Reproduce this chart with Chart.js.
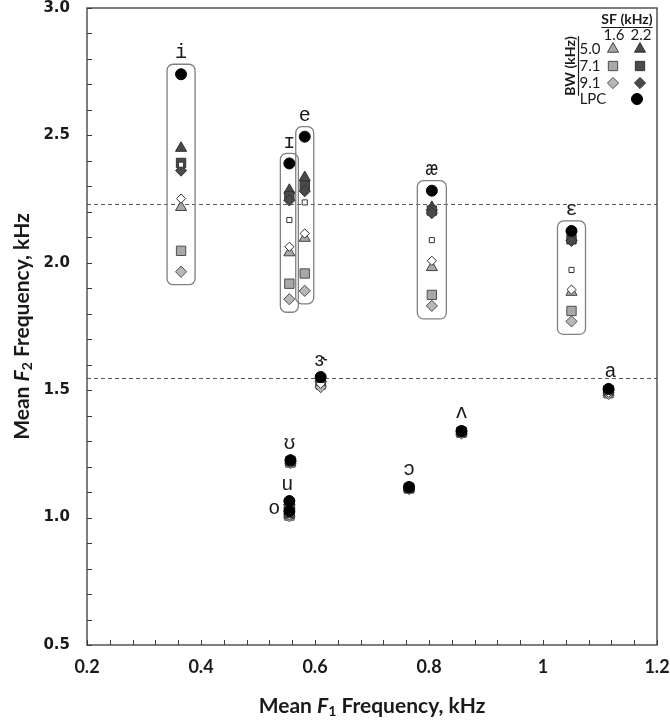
<!DOCTYPE html>
<html><head><meta charset="utf-8">
<script src="https://cdn.jsdelivr.net/npm/chart.js@4.4.0/dist/chart.umd.min.js"></script>
<style>html,body{margin:0;padding:0;background:#fff;}#wrap{width:670px;height:723px;}</style>
</head><body><div id="wrap"><canvas id="c" width="670" height="723"></canvas></div>
<script>
// ---------- DATA ----------
const vowels = ['i','ɪ','e','æ','ɛ','ɝ','a','ʌ','ɔ','ʊ','u','o'];
const meanF1 = [0.365,0.555,0.582,0.805,1.050,0.610,1.115,0.857,0.765,0.557,0.555,0.555];
const lpcF2      = [2.740,2.390,2.495,2.283,2.125,1.552,1.505,1.340,1.120,1.225,1.065,1.025];
const bw50sf22F2 = [2.450,2.285,2.335,2.218,2.100,1.545,1.503,1.338,1.118,1.224,1.060,1.022];
const bw50sf16F2 = [2.218,2.040,2.097,1.982,1.885,1.528,1.490,1.334,1.115,1.218,1.048,1.010];
const bw71sf22F2 = [2.392,2.262,2.303,2.205,2.092,1.540,1.500,1.337,1.117,1.222,1.055,1.017];
const bw71sf16F2 = [2.047,1.918,1.958,1.874,1.811,1.522,1.488,1.333,1.114,1.216,1.045,1.008];
const bw91sf22F2 = [2.362,2.245,2.281,2.195,2.086,1.535,1.498,1.336,1.116,1.220,1.052,1.014];
const bw91sf16F2 = [1.965,1.857,1.890,1.831,1.770,1.512,1.485,1.330,1.112,1.214,1.040,1.005];
const extraSqF2  = [2.385,2.168,2.237,2.089,1.972,1.540,1.495,1.335,1.115,1.220,1.050,1.010];
const extraDmF2  = [2.252,2.063,2.115,2.008,1.895,1.525,1.490,1.334,1.114,1.216,1.046,1.009];
const refLinesF2 = [2.232, 1.548];
const boxedVowels = ['i','ɪ','e','æ','ɛ'];
const xTickLabelsAt = [0.2,0.4,0.6,0.8,1.0,1.2];
const yTickLabelsAt = [0.5,1.0,1.5,2.0,2.5,3.0];
const sfLabels = ['1.6','2.2'];
const bwLabels = ['5.0','7.1','9.1'];

// ---------- STYLES ----------
const DARK='#4a4a4a', LIGHT='#a8a8a8', LIGHTD='#b8b8b8';
const series = [
  {name:'LPC', data:lpcF2, style:'circle', r:5.5, bg:'#000', bd:'#000', bw:1},
  {name:'extraSq', data:extraSqF2, style:'rect', r:3.6, bg:'#fff', bd:'#333', bw:1},
  {name:'extraDm', data:extraDmF2, style:'rectRot', r:4.6, bg:'#fff', bd:'#333', bw:1},
  {name:'BW9.1 SF2.2', data:bw91sf22F2, style:'rectRot', r:5.6, bg:DARK, bd:'#333', bw:1},
  {name:'BW7.1 SF2.2', data:bw71sf22F2, style:'rect', r:6.6, bg:DARK, bd:'#333', bw:1},
  {name:'BW5.0 SF2.2', data:bw50sf22F2, style:'triangle', r:6.4, bg:DARK, bd:'#333', bw:1},
  {name:'BW9.1 SF1.6', data:bw91sf16F2, style:'rectRot', r:5.6, bg:LIGHTD, bd:'#4d4d4d', bw:1},
  {name:'BW7.1 SF1.6', data:bw71sf16F2, style:'rect', r:6.6, bg:LIGHT, bd:'#4d4d4d', bw:1},
  {name:'BW5.0 SF1.6', data:bw50sf16F2, style:'triangle', r:6.4, bg:LIGHT, bd:'#404040', bw:1}
];
const boxHalfWidth = {'i':14,'ɪ':9,'e':9,'æ':14.5,'ɛ':14};
const boxPad = {top:10, bottom:13, radius:6};
const labelOffset = {'i':[0,-12],'ɪ':[0,-11],'e':[0,-11],'æ':[0,-11],'ɛ':[0,-11],
  'ɝ':[0,-16],'a':[2,-17],'ʌ':[0,-18],'ɔ':[0,-17],'ʊ':[-1,-17],'u':[-2,-16],'o':[-15,-3]};
const AREA = {left:87, right:657, top:8, bottom:645};
const LEG = {bwX:578, rowLblX:590, col:[613,640], colLbl:[614,641], lpcX:637, sfX:627, sfY:19, colLblY:35, rowY:[49,66,83], lpcY:99};

// ---------- HELPERS ----------
function rr(ctx,x,y,w,h,r){ctx.beginPath();ctx.moveTo(x+r,y);ctx.lineTo(x+w-r,y);ctx.arcTo(x+w,y,x+w,y+r,r);
  ctx.lineTo(x+w,y+h-r);ctx.arcTo(x+w,y+h,x+w-r,y+h,r);ctx.lineTo(x+r,y+h);ctx.arcTo(x,y+h,x,y+h-r,r);
  ctx.lineTo(x,y+r);ctx.arcTo(x,y,x+r,y,r);ctx.closePath();}
function rich(ctx, segs, cx, cy, rot, size){
  const fam="Lato, 'Open Sans', sans-serif";
  const parts = segs.map(s=>{const fs=s.sub?Math.round(size*0.68):size;
    const font=(s.it?'italic ':'')+'bold '+fs+'px '+fam; ctx.font=font; return {t:s.t,font,w:ctx.measureText(s.t).width,sub:s.sub,fs};});
  const total = parts.reduce((a,p)=>a+p.w,0);
  ctx.save(); ctx.translate(cx,cy); ctx.rotate(rot); ctx.fillStyle='#1a1a1a'; ctx.textBaseline='middle'; ctx.textAlign='left';
  let x=-total/2; parts.forEach(p=>{ctx.font=p.font; ctx.fillText(p.t,x,p.sub?size*0.28:0); x+=p.w;}); ctx.restore();
}
const near=(v,arr)=>arr.some(a=>Math.abs(a-v)<1e-6);
function zeroPad(s){s.paddingLeft=0;s.paddingRight=0;s.paddingTop=0;s.paddingBottom=0;}

const overlay = {
  id:'overlay',
  beforeDatasetsDraw(chart){
    const {ctx, chartArea:a, scales:{x,y}} = chart;
    ctx.save();
    ctx.strokeStyle='#5a5a5a'; ctx.lineWidth=1; ctx.setLineDash([4,3]);
    refLinesF2.forEach(v=>{const py=Math.round(y.getPixelForValue(v))+0.5; ctx.beginPath(); ctx.moveTo(a.left,py); ctx.lineTo(a.right,py); ctx.stroke();});
    ctx.setLineDash([]);
    ctx.strokeStyle='#808080'; ctx.lineWidth=1.3;
    boxedVowels.forEach(v=>{
      const i=vowels.indexOf(v); const vals=series.map(s=>s.data[i]);
      const top=y.getPixelForValue(Math.max(...vals))-boxPad.top;
      const bot=y.getPixelForValue(Math.min(...vals))+boxPad.bottom;
      const cx=x.getPixelForValue(meanF1[i]); const hw=boxHalfWidth[v];
      rr(ctx,cx-hw,top,2*hw,bot-top,boxPad.radius); ctx.stroke();
    });
    ctx.restore();
  },
  afterDraw(chart){
    const {ctx, chartArea:a, scales:{x,y}} = chart;
    ctx.save();
    ctx.strokeStyle='#3a3a3a'; ctx.lineWidth=1.3;
    ctx.strokeRect(a.left, a.top, a.right-a.left, a.bottom-a.top);
    ctx.lineWidth=1;
    x.ticks.forEach(t=>{const px=Math.round(x.getPixelForValue(t.value))+0.5; ctx.beginPath(); ctx.moveTo(px,a.bottom); ctx.lineTo(px,a.bottom-5); ctx.stroke();});
    y.ticks.forEach(t=>{const py=Math.round(y.getPixelForValue(t.value))+0.5; ctx.beginPath(); ctx.moveTo(a.left,py); ctx.lineTo(a.left+5,py); ctx.stroke();});
    // vowel labels
    ctx.fillStyle='#1a1a1a'; ctx.font="20px 'Liberation Mono', 'DejaVu Sans Mono', monospace";
    ctx.textAlign='center'; ctx.textBaseline='middle';
    vowels.forEach((v,i)=>{
      const vals=series.map(s=>s.data[i]);
      let top=y.getPixelForValue(Math.max(...vals));
      if(boxedVowels.includes(v)) top-=boxPad.top;
      const off=labelOffset[v];
      ctx.fillText(v, x.getPixelForValue(meanF1[i])+off[0], top+off[1]);
    });
    // legend
    const lf="15px Lato, 'Open Sans', sans-serif", bf="bold 14px Lato, 'Open Sans', sans-serif";
    ctx.fillStyle='#1a1a1a'; ctx.textAlign='center'; ctx.textBaseline='middle';
    ctx.font=bf;
    ctx.fillText('SF (kHz)', LEG.sfX, LEG.sfY);
    const sw=ctx.measureText('SF (kHz)').width;
    ctx.strokeStyle='#1a1a1a'; ctx.lineWidth=1.2; ctx.beginPath(); ctx.moveTo(LEG.sfX-sw/2,LEG.sfY+8.5); ctx.lineTo(LEG.sfX+sw/2,LEG.sfY+8.5); ctx.stroke();
    ctx.font=lf;
    sfLabels.forEach((s,k)=>ctx.fillText(s,LEG.colLbl[k],LEG.colLblY));
    const legendSets=[['BW5.0 SF1.6','BW5.0 SF2.2'],['BW7.1 SF1.6','BW7.1 SF2.2'],['BW9.1 SF1.6','BW9.1 SF2.2']];
    bwLabels.forEach((b,r)=>{
      ctx.fillStyle='#1a1a1a'; ctx.fillText(b,LEG.rowLblX,LEG.rowY[r]);
      legendSets[r].forEach((n,k)=>{const s=series.find(q=>q.name===n);
        ctx.fillStyle=s.bg; ctx.strokeStyle=s.bd; ctx.lineWidth=s.bw;
        Chart.helpers.drawPoint(ctx,{pointStyle:s.style,radius:s.r,rotation:0,borderWidth:s.bw},LEG.col[k],LEG.rowY[r]);});
    });
    ctx.fillStyle='#1a1a1a'; ctx.fillText('LPC',LEG.rowLblX+3,LEG.lpcY);
    ctx.fillStyle='#000'; ctx.strokeStyle='#000';
    Chart.helpers.drawPoint(ctx,{pointStyle:'circle',radius:5.5,rotation:0,borderWidth:1},LEG.lpcX,LEG.lpcY);
    const bwCY=(LEG.rowY[0]+LEG.rowY[2])/2;
    ctx.save(); ctx.translate(LEG.bwX-8,bwCY); ctx.rotate(-Math.PI/2);
    ctx.fillStyle='#1a1a1a'; ctx.font=bf; ctx.fillText('BW (kHz)',0,0);
    const bwW=ctx.measureText('BW (kHz)').width; ctx.restore();
    ctx.strokeStyle='#1a1a1a'; ctx.lineWidth=1.2; ctx.beginPath(); ctx.moveTo(LEG.bwX+0.5,bwCY-bwW/2); ctx.lineTo(LEG.bwX+0.5,bwCY+bwW/2); ctx.stroke();
    // axis titles
    rich(ctx,[{t:'Mean '},{t:'F',it:true},{t:'1',sub:true},{t:' Frequency, kHz'}], (a.left+a.right)/2, 706, 0, 21);
    rich(ctx,[{t:'Mean '},{t:'F',it:true},{t:'2',sub:true},{t:' Frequency, kHz'}], 22, (a.top+a.bottom)/2, -Math.PI/2, 21);
    ctx.restore();
  }
};

const datasets = series.map(s=>({
  label:s.name,
  data: meanF1.map((f,i)=>({x:f, y:s.data[i]})),
  pointStyle:s.style, pointRadius:s.r, pointHoverRadius:s.r,
  pointBackgroundColor:s.bg, pointBorderColor:s.bd, pointBorderWidth:s.bw,
  showLine:false
}));

new Chart(document.getElementById('c'), {
  type:'scatter',
  data:{datasets},
  options:{
    responsive:false, animation:false, devicePixelRatio:1,
    layout:{padding:{left:0,right:670-AREA.right,top:AREA.top,bottom:0}},
    plugins:{legend:{display:false}, tooltip:{enabled:false}},
    scales:{
      x:{type:'linear', min:0.2, max:1.2,
        afterFit(s){s.height=723-AREA.bottom; zeroPad(s);},
        grid:{display:false, drawTicks:false}, border:{display:false},
        ticks:{stepSize:0.04, maxTicksLimit:60, autoSkip:false, maxRotation:0, padding:11,
          color:'#1a1a1a', font:{family:"Lato, 'Open Sans', sans-serif", weight:'bold', size:18},
          callback:(v)=> near(v,xTickLabelsAt) ? String(Math.round(v*10)/10) : ''}},
      y:{type:'linear', min:0.5, max:3.0,
        afterFit(s){s.width=AREA.left; zeroPad(s);},
        grid:{display:false, drawTicks:false}, border:{display:false},
        ticks:{stepSize:0.1, maxTicksLimit:60, autoSkip:false, padding:17,
          color:'#1a1a1a', font:{family:"'DejaVu Sans', Verdana, sans-serif", weight:'bold', size:15},
          callback:(v)=> near(v,yTickLabelsAt) ? v.toFixed(1) : ''}}
    }
  },
  plugins:[overlay]
});
</script></body></html>
